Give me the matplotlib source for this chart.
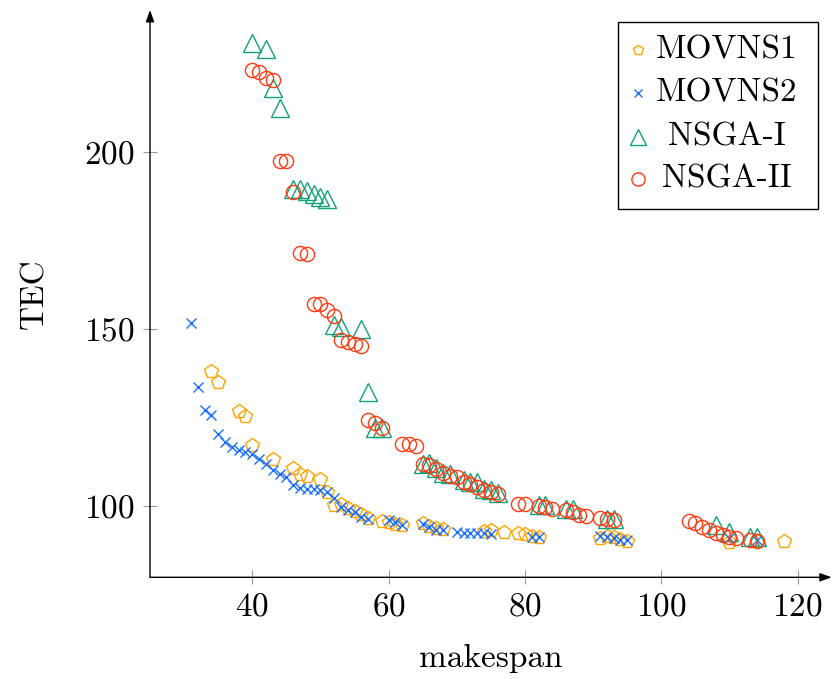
import matplotlib
matplotlib.use("Agg")
import matplotlib.pyplot as plt
from matplotlib.patches import Rectangle

plt.rcParams['font.family'] = 'cmr10'
plt.rcParams['mathtext.fontset'] = 'cm'
plt.rcParams['axes.formatter.use_mathtext'] = True

# ---- data ----
movns1_x = [34, 35, 38, 39, 40, 43, 46, 47, 48, 50, 51, 52, 53, 54, 55, 56, 57, 59, 60, 61, 62,
            65, 66, 67, 68, 74, 75, 77, 79, 80, 81, 82, 91, 92, 93, 94, 95, 110, 114, 118]
movns1_y = [138.3, 135.2, 126.9, 125.5, 117.2, 113.5, 110.7, 109.2, 108.5, 107.6, 104.0, 100.3,
            100.7, 99.5, 98.8, 97.8, 96.8, 96.0, 95.6, 95.0, 94.7, 95.3, 94.5, 94.0, 93.6, 93.0,
            93.3, 92.8, 92.6, 92.1, 91.6, 91.4, 91.2, 91.6, 91.3, 90.7, 90.2, 90.0, 90.3, 90.2]

movns2_x = [31, 32, 33, 34, 35, 36, 37, 38, 39, 40, 41, 42, 43, 44, 45, 46, 47, 48, 49, 50, 51,
            52, 53, 54, 55, 56, 57, 60, 61, 62, 65, 66, 67, 68, 70, 71, 72, 73, 74, 75, 81, 82,
            91, 92, 93, 94, 95, 110, 114]
movns2_y = [151.8, 133.8, 127.3, 125.7, 120.3, 118.2, 116.8, 115.8, 115.3, 114.8, 113.3, 111.9,
            110.3, 109.0, 108.3, 105.9, 105.3, 105.0, 104.8, 104.5, 104.0, 102.5, 99.8, 98.9,
            98.4, 97.0, 96.5, 96.2, 95.5, 94.8, 95.0, 94.1, 93.3, 93.2, 92.8, 92.6, 92.4, 92.4,
            92.5, 92.3, 91.4, 91.4, 91.7, 91.4, 91.2, 90.6, 90.4, 91.0, 90.6]

nsga1_x = [40, 42, 43, 44, 46, 47, 48, 49, 50, 51, 52, 53, 56, 57, 58, 59, 65, 66, 67, 68, 69,
           71, 72, 73, 74, 75, 76, 82, 83, 86, 87, 92, 93, 108, 110, 113, 114]
nsga1_y = [230.6, 229.1, 218.0, 212.5, 189.4, 189.4, 188.9, 188.2, 187.2, 186.6, 151.1, 150.7,
           150.0, 132.4, 122.0, 122.0, 112.0, 112.3, 110.8, 109.3, 109.0, 107.5, 107.0, 106.8,
           105.0, 104.5, 103.8, 100.5, 100.5, 99.2, 99.2, 96.5, 96.5, 94.7, 92.8, 91.4, 91.4]

nsga2_x = [40, 41, 42, 43, 44, 45, 46, 47, 48, 49, 50, 51, 52, 53, 54, 55, 56, 57, 58, 59, 62,
           63, 64, 65, 66, 67, 68, 69, 70, 71, 72, 73, 74, 75, 76, 79, 80, 82, 83, 84, 86, 87,
           88, 89, 91, 92, 93, 104, 105, 106, 107, 108, 109, 110, 111, 113, 114]
nsga2_y = [223.2, 222.5, 220.8, 220.2, 197.4, 197.4, 188.7, 171.5, 171.1, 157.2, 157.0, 155.3,
           153.7, 146.9, 146.3, 145.8, 145.1, 124.3, 123.5, 122.0, 117.7, 117.7, 116.9, 112.0,
           111.8, 110.6, 109.3, 108.7, 108.3, 107.0, 106.4, 105.5, 104.6, 104.0, 103.6, 100.6,
           100.6, 100.0, 99.8, 99.3, 98.9, 98.4, 97.7, 97.2, 96.8, 96.5, 96.1, 95.9, 95.4, 94.2,
           93.2, 92.5, 91.8, 91.4, 91.2, 90.4, 90.1]

labels = ["MOVNS1", "MOVNS2", "NSGA-I", "NSGA-II"]
x_ticks = [40, 60, 80, 100, 120]
y_ticks = [100, 150, 200]

# ---- style ----
c_orange = '#FFA500'
c_blue = '#1A6EFF'
c_green = '#13A07A'
c_red = '#FF3B14'

styles = [
    dict(marker='p', ms=10.5, color=c_orange),
    dict(marker='x', ms=7.5, color=c_blue),
    dict(marker='^', ms=12.5, color=c_green),
    dict(marker='o', ms=10.2, color=c_red),
]
series = [(movns1_x, movns1_y), (movns2_x, movns2_y), (nsga1_x, nsga1_y), (nsga2_x, nsga2_y)]

fig = plt.figure(figsize=(8.34, 6.79), dpi=100)
ax = fig.add_axes([150 / 834, 1 - 577.3 / 679, (831.7 - 150) / 834, (577.3 - 10) / 679])

for (xs, ys), st in zip(series, styles):
    ax.plot(xs, ys, linestyle='none', marker=st['marker'], ms=st['ms'],
            markerfacecolor='none', markeredgecolor=st['color'], markeredgewidth=1.0,
            clip_on=False)

ax.set_xlim(25, 125)
ax.set_ylim(80, 240)
ax.set_xticks(x_ticks)
ax.set_yticks(y_ticks)
ax.tick_params(direction='inout', length=10, width=0.8, color='#9a9a9a',
               labelsize=24, pad=6)
for s in ['top', 'right', 'left', 'bottom']:
    ax.spines[s].set_visible(False)

# axis lines with arrows
ax.annotate('', xy=(1, 0), xytext=(0, 0), xycoords='axes fraction',
            arrowprops=dict(arrowstyle='-|>,head_length=0.7,head_width=0.25',
                            color='black', lw=1.0, shrinkA=0, shrinkB=0))
ax.annotate('', xy=(0, 1), xytext=(0, 0), xycoords='axes fraction',
            arrowprops=dict(arrowstyle='-|>,head_length=0.7,head_width=0.25',
                            color='black', lw=1.0, shrinkA=0, shrinkB=0))

ax.set_xlabel('makespan', fontsize=24, labelpad=16)
ax.set_ylabel('TEC', fontsize=24, labelpad=25)

# ---- legend (manual, centred entries like pgfplots) ----
def fx(px):
    return (px - 150) / (831.7 - 150)

def fy(py):
    return (577.3 - py) / (577.3 - 10)

box = Rectangle((fx(618.3), fy(209)), fx(818.3) - fx(618.3), fy(21.7) - fy(209),
                transform=ax.transAxes, facecolor='white', edgecolor='black',
                linewidth=1.0, zorder=5, clip_on=False)
ax.add_patch(box)
row_y = [50, 93, 136.5, 179]
marker_ms = [7.8, 6.0, 12.0, 9.5]
for lab, st, ry, mms in zip(labels, styles, row_y, marker_ms):
    ax.plot([fx(637.5)], [fy(ry)], transform=ax.transAxes, linestyle='none',
            marker=st['marker'], ms=mms, markerfacecolor='none',
            markeredgecolor=st['color'], markeredgewidth=1.0, zorder=6, clip_on=False)
    ax.text(fx(726.5), fy(ry), lab, transform=ax.transAxes, ha='center', va='center',
            fontsize=24, zorder=6)

fig.savefig('out.png', dpi=100)
